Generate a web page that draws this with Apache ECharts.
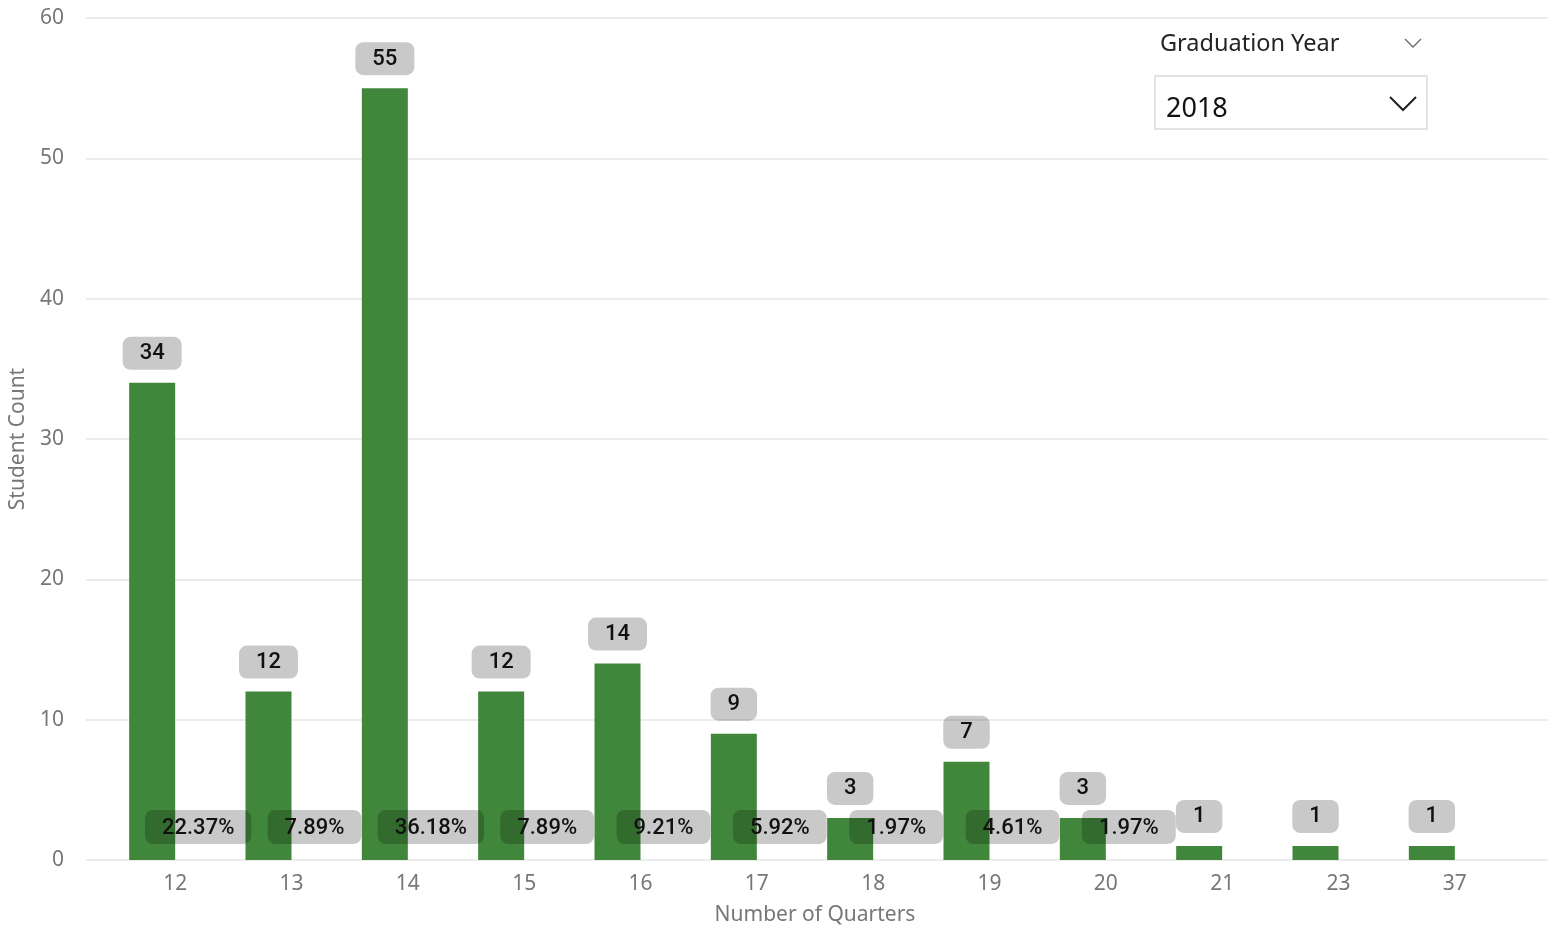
<!DOCTYPE html>
<html>
<head>
<meta charset="utf-8">
<script src="https://cdn.jsdelivr.net/npm/echarts@6/dist/echarts.min.js"></script>
<style>
html,body{margin:0;padding:0;background:#fff;}
#chart{width:1555px;height:932px;}
</style>
</head>
<body>
<div id="chart"></div>
<script>
const categories = ['12','13','14','15','16','17','18','19','20','21','23','37'];
const studentCounts = [34, 12, 55, 12, 14, 9, 3, 7, 3, 1, 1, 1];
const percentLabels = ['22.37%','7.89%','36.18%','7.89%','9.21%','5.92%','1.97%','4.61%','1.97%','','',''];
const percentBase = [0,0,0,0,0,0,0,0,0,0,0,0];
const yTicks = {min: 0, max: 60, interval: 10};

const chart = echarts.init(document.getElementById('chart'));
const labelBg = 'rgba(0,0,0,0.21)';
const percentData = percentBase.map((v, i) => ({
  value: v,
  label: {show: percentLabels[i] !== ''}
}));
const option = {
  animation: false,
  backgroundColor: '#ffffff',
  grid: [
    {left: 83, right: 7, top: 18, bottom: 72},
    {left: 117, right: 42, top: 18, bottom: 72}
  ],
  xAxis: [
    {gridIndex: 0, type: 'value', show: false, min: 0, max: 1},
    {
      gridIndex: 1, type: 'category', data: categories,
      axisLine: {show: false}, axisTick: {show: false},
      axisLabel: {color: '#777', fontSize: 21, fontFamily: 'Noto Sans', margin: 14},
      name: 'Number of Quarters', nameLocation: 'middle', nameGap: 45,
      nameTextStyle: {color: '#777', fontSize: 21, fontFamily: 'Noto Sans'}
    }
  ],
  yAxis: [
    {
      gridIndex: 0, type: 'value', min: yTicks.min, max: yTicks.max, interval: yTicks.interval,
      axisLine: {show: false}, axisTick: {show: false},
      axisLabel: {color: '#777', fontSize: 21, fontFamily: 'Noto Sans', margin: 22},
      splitLine: {lineStyle: {color: '#e6e6e6', width: 1.5}},
      name: 'Student Count', nameLocation: 'middle', nameGap: 53, nameRotate: 90,
      nameTextStyle: {color: '#777', fontSize: 21, fontFamily: 'Noto Sans'}
    },
    {gridIndex: 1, type: 'value', min: yTicks.min, max: yTicks.max, interval: yTicks.interval, show: false, splitLine: {show: false}}
  ],
  series: [
    {
      type: 'bar', xAxisIndex: 1, yAxisIndex: 1,
      data: studentCounts, barWidth: 46,
      itemStyle: {color: '#41873b'},
      label: {
        show: true, position: 'top', distance: 13,
        color: '#111', fontSize: 22, fontWeight: 500, fontFamily: 'Roboto',
        backgroundColor: labelBg, borderRadius: 8, padding: [6, 17, 5, 17]
      }
    },
    {
      type: 'bar', xAxisIndex: 1, yAxisIndex: 1,
      data: percentData, barWidth: 46, barGap: '0%',
      itemStyle: {color: 'rgba(0,0,0,0)'},
      label: {
        show: true, position: 'top', distance: 16,
        formatter: p => percentLabels[p.dataIndex],
        color: '#111', fontSize: 22, fontWeight: 500, fontFamily: 'Roboto',
        backgroundColor: labelBg, borderRadius: 8, padding: [7, 17, 5, 17]
      },
      z: 5
    }
  ],
  graphic: [
    {type: 'text', left: 1160, top: 32, style: {text: 'Graduation Year', fontSize: 23.5, fontFamily: 'Noto Sans', fill: '#252423'}},
    {type: 'polyline', shape: {points: [[1405, 39], [1413, 47], [1421, 39]]}, style: {stroke: '#666', lineWidth: 1.3, fill: null}},
    {type: 'rect', shape: {x: 1155, y: 76, width: 272, height: 53}, style: {stroke: '#e3e3e3', lineWidth: 2, fill: '#fff'}},
    {type: 'text', left: 1166, top: 96, style: {text: '2018', fontSize: 27, fontFamily: 'Noto Sans', fill: '#111'}},
    {type: 'polyline', shape: {points: [[1390, 97], [1403, 110], [1416, 97]]}, style: {stroke: '#222', lineWidth: 2, fill: null}}
  ]
};
chart.setOption(option);
</script>
</body>
</html>
